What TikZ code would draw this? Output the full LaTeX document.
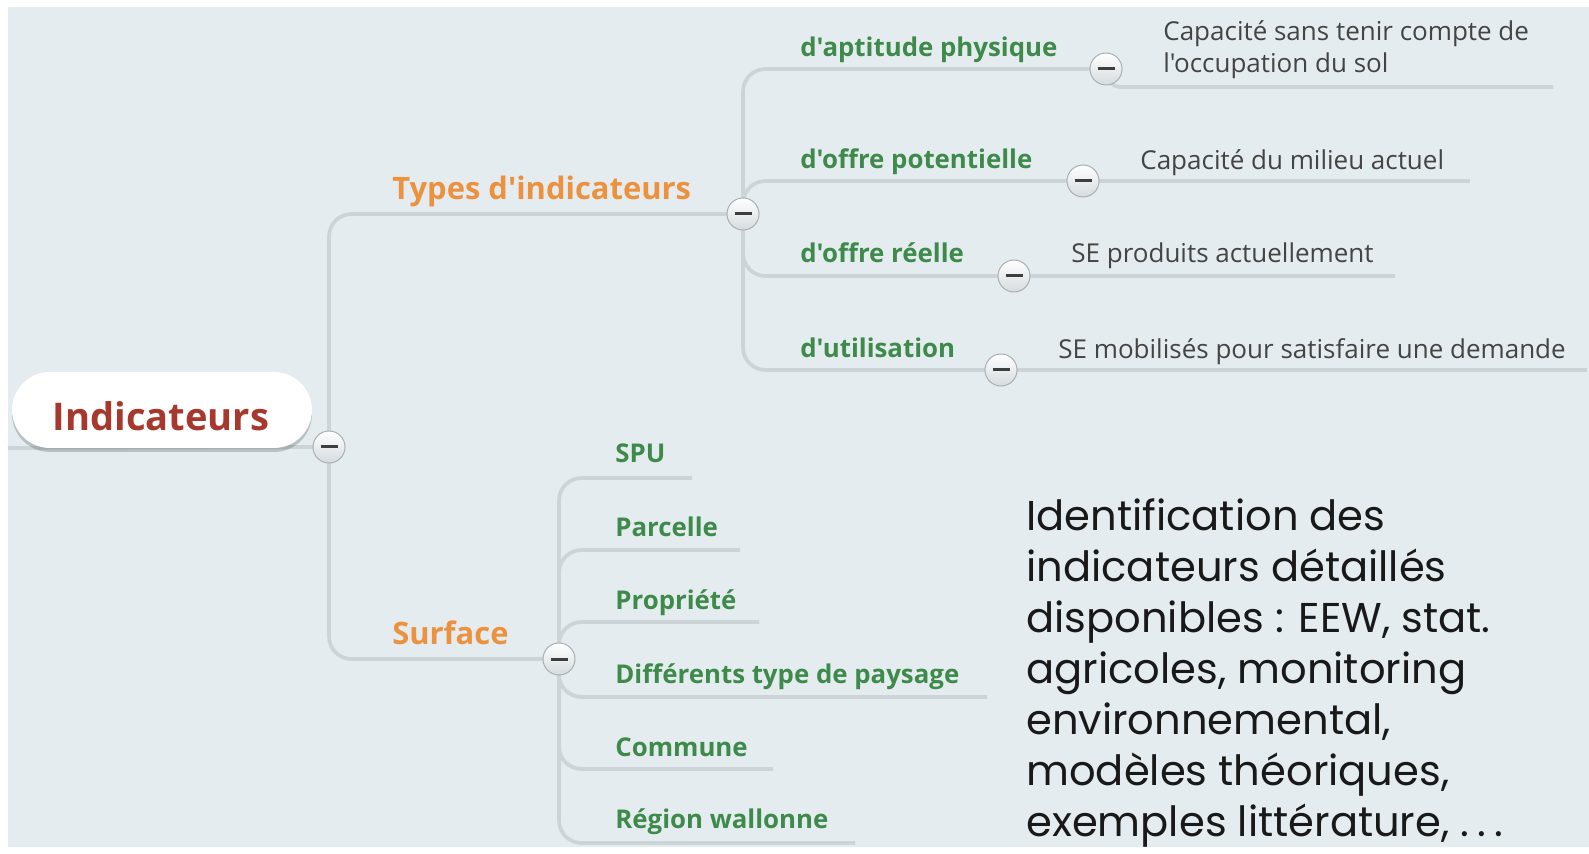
\documentclass[tikz,border=0pt]{standalone}
\usepackage{fontspec}
\setmainfont{Open Sans}[Ligatures=TeXOff]
\newfontfamily\notefont{Poppins}
\usepackage{xcolor}
\usepackage{tikz}
\usetikzlibrary{backgrounds,shadows}
\definecolor{map-bg}{RGB}{228,236,240}
\definecolor{map-line}{RGB}{204,212,216}
\definecolor{toggle-rim}{RGB}{168,175,180}
\definecolor{toggle-low}{RGB}{214,219,222}
\definecolor{toggle-bar}{RGB}{60,62,64}
\definecolor{root-red}{RGB}{166,56,46}
\definecolor{topic-orange}{RGB}{236,146,62}
\definecolor{sub-green}{RGB}{62,138,74}
\definecolor{leaf-gray}{RGB}{68,68,68}
\definecolor{note-black}{RGB}{25,25,25}

\tikzset{
    branch/.style={draw=map-line, line width=0.075cm, rounded corners=0.45cm},
    toggle/.style={circle, draw=toggle-rim, line width=0.02cm, top color=white, bottom color=toggle-low,
        minimum size=0.64cm, inner sep=0pt,
        path picture={\draw[line width=0.06cm, toggle-bar]
            ([xshift=-0.17cm]path picture bounding box.center) -- ([xshift=0.17cm]path picture bounding box.center);}},
    pill/.style={rounded corners=0.76cm, fill=white, minimum width=6cm, minimum height=1.52cm, inner sep=0pt,
        drop shadow={shadow xshift=0cm, shadow yshift=-0.08cm, opacity=0.18, fill=black}},
    rootlabel/.style={anchor=base, inner sep=0pt, text=root-red, font=\bfseries\fontsize{21.7}{26}\selectfont},
    topic/.style={anchor=base west, inner sep=0pt, text=topic-orange, font=\bfseries\fontsize{17.6}{21}\selectfont},
    subtopic/.style={anchor=base west, inner sep=0pt, text=sub-green, font=\bfseries\fontsize{14.7}{17}\selectfont},
    leaf/.style={anchor=base west, inner sep=0pt, text=leaf-gray, align=left, font=\fontsize{14.8}{18.7}\selectfont},
    note/.style={anchor=base west, inner sep=0pt, text=note-black, align=left, font=\notefont\fontsize{23.7}{29}\selectfont}
}

\begin{document}
\begin{tikzpicture}[x=0.02cm, y=-0.02cm]
    \useasboundingbox (0,0) rectangle (1589,854);
    \begin{scope}[on background layer]
        \fill[white] (0,0) rectangle (1589,854);
        \fill[map-bg] (8,7) rectangle (1589,847);
    \end{scope}

    % root
    \coordinate (rootIn) at (8,448);
    \node[pill] (root) at (162,410) {};
    \node[rootlabel] (rootText) at (161,431) {Indicateurs};
    \node[toggle] (rootT) at (329,447) {};

    % main topics
    \node[topic] (types) at (392,200) {Types d'indicateurs};
    \node[toggle] (typesT) at (743,214) {};
    \node[topic] (surface) at (392,644) {Surface};
    \node[toggle] (surfT) at (559,659) {};

    % kinds of indicators
    \node[subtopic] (apt) at (800,57) {d'aptitude physique};
    \node[toggle] (aptT) at (1106,69) {};
    \node[subtopic] (pot) at (800,169) {d'offre potentielle};
    \node[toggle] (potT) at (1083,181) {};
    \node[subtopic] (reel) at (800,263) {d'offre réelle};
    \node[toggle] (reelT) at (1014,276) {};
    \node[subtopic] (util) at (800,358) {d'utilisation};
    \node[toggle] (utilT) at (1001,370) {};

    % (base of a two-line node = last line)
    \node[leaf] (aptText) at (1163,73) {Capacité sans tenir compte de\\l'occupation du sol};
    \coordinate (aptEnd) at (1553,87);
    \node[leaf] (potText) at (1140,170) {Capacité du milieu actuel};
    \coordinate (potEnd) at (1470,181);
    \node[leaf] (reelText) at (1071,263) {SE produits actuellement};
    \coordinate (reelEnd) at (1395,276);
    \node[leaf] (utilText) at (1058,359) {SE mobilisés pour satisfaire une demande};
    \coordinate (utilEnd) at (1587,370);

    % surfaces
    \node[subtopic] (spu) at (615,463) {SPU};
    \coordinate (spuEnd) at (692,478);
    \node[subtopic] (parc) at (615,537) {Parcelle};
    \coordinate (parcEnd) at (740,550);
    \node[subtopic] (prop) at (615,609) {Propriété};
    \coordinate (propEnd) at (759,622);
    \node[subtopic] (pays) at (615,683) {Différents type de paysage};
    \coordinate (paysEnd) at (987,697);
    \node[subtopic] (comm) at (615,756) {Commune};
    \coordinate (commEnd) at (773,769);
    \node[subtopic] (wall) at (615,828) {Région wallonne};
    \coordinate (wallEnd) at (855,843);

    \node[note] (notes) at (1026,836) {Identification des\\indicateurs détaillés\\disponibles : EEW, stat.\\agricoles, monitoring\\environnemental,\\modèles théoriques,\\exemples littérature, .\hspace{0.2em}.\hspace{0.2em}.};

    \begin{scope}[on background layer]
        \draw[branch] (rootIn) -- (rootT.center);
        \draw[branch] (rootT.center) |- (typesT.center);
        \draw[branch] (rootT.center) |- (surfT.center);
        \foreach \t in {aptT,potT,reelT,utilT}
            \draw[branch] (typesT.center) |- (\t.center);
        \draw[branch, rounded corners=0.3cm] (aptT.center) |- (aptEnd);
        \draw[branch] (potT.center) -- (potEnd);
        \draw[branch] (reelT.center) -- (reelEnd);
        \draw[branch] (utilT.center) -- (utilEnd);
        \foreach \s in {spuEnd,parcEnd,propEnd,paysEnd,commEnd,wallEnd}
            \draw[branch] (surfT.center) |- (\s);
    \end{scope}
\end{tikzpicture}
\end{document}
